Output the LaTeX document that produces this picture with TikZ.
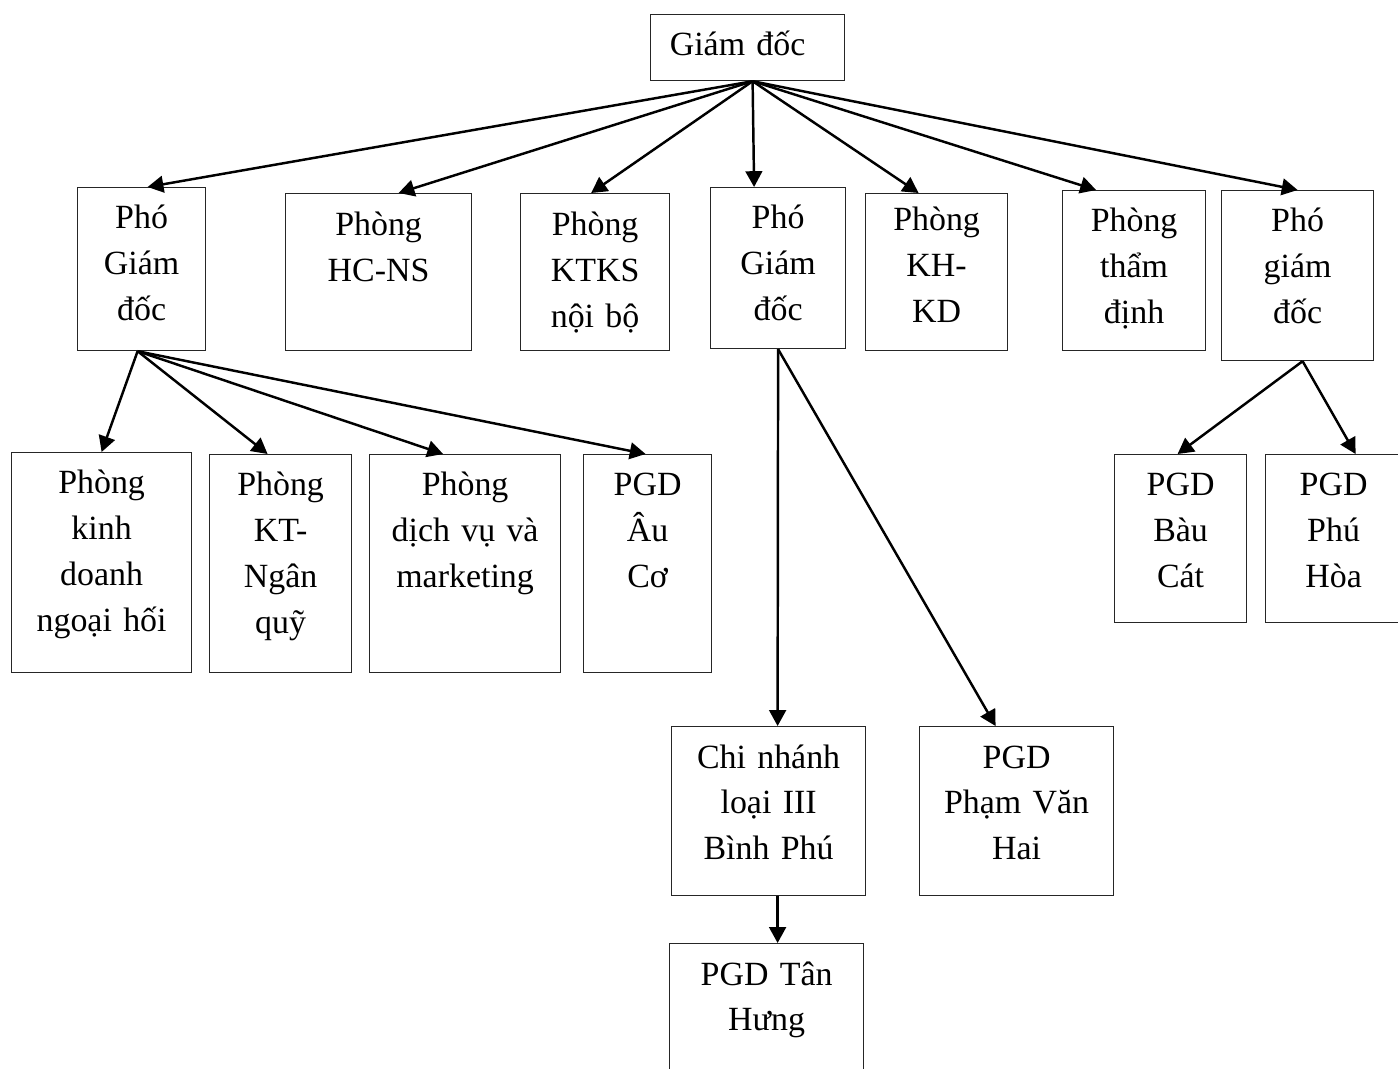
\documentclass[tikz,border=0pt]{standalone}
\usepackage{fontspec}
\setmainfont{Liberation Serif}
\usepackage{tikz}
\usetikzlibrary{positioning,calc,arrows.meta}

\begin{document}
\begin{tikzpicture}[x=0.02cm,y=-0.02cm]
\tikzset{
  unit/.style={draw=black!85, line width=0.7pt, anchor=north west, inner sep=0pt},
  caption/.style={anchor=base, yshift=-0.84cm, align=center, text width=4cm,
    inner sep=0pt, font=\fontsize{19.3pt}{26pt}\selectfont},
  link/.style={line width=1.4pt, -{Triangle[length=9pt,width=9.5pt]}}
}
\clip (0,0) rectangle (1398,1068);
% top
\node[unit, minimum width=3.88cm, minimum height=1.32cm,
  label={[caption, xshift=-0.2cm]north:Giám đốc}] (gd) at (650,14) {};
% second row
\node[unit, minimum width=2.56cm, minimum height=3.26cm,
  label={[caption]north:Phó\\Giám\\đốc}] (pgdA) at (77,187) {};
\node[unit, minimum width=3.72cm, minimum height=3.14cm,
  label={[caption, yshift=-0.02cm]north:Phòng\\HC-NS}] (hcns) at (285,193) {};
\node[unit, minimum width=2.98cm, minimum height=3.14cm,
  label={[caption, yshift=-0.02cm]north:Phòng\\KTKS\\nội bộ}] (ktks) at (520,193) {};
\node[unit, minimum width=2.70cm, minimum height=3.22cm,
  label={[caption]north:Phó\\Giám\\đốc}] (pgdB) at (710,187) {};
\node[unit, minimum width=2.84cm, minimum height=3.14cm,
  label={[caption, yshift=0.08cm]north:Phòng\\KH-\\KD}] (khkd) at (865,193) {};
\node[unit, minimum width=2.86cm, minimum height=3.20cm,
  label={[caption]north:Phòng\\thẩm\\định}] (thamdinh) at (1062,190) {};
\node[unit, minimum width=3.04cm, minimum height=3.40cm,
  label={[caption]north:Phó\\giám\\đốc}] (pgdC) at (1221,190) {};
% third row
\node[unit, minimum width=3.60cm, minimum height=4.40cm,
  label={[caption]north:Phòng\\kinh\\doanh\\ngoại hối}] (kdnh) at (11,452) {};
\node[unit, minimum width=2.84cm, minimum height=4.36cm,
  label={[caption]north:Phòng\\KT-\\Ngân\\quỹ}] (ktnq) at (209,454) {};
\node[unit, minimum width=3.82cm, minimum height=4.36cm,
  label={[caption]north:Phòng\\dịch vụ và\\marketing}] (dvmkt) at (369,454) {};
\node[unit, minimum width=2.56cm, minimum height=4.36cm,
  label={[caption]north:PGD\\Âu\\Cơ}] (auco) at (583,454) {};
\node[unit, minimum width=2.64cm, minimum height=3.36cm,
  label={[caption]north:PGD\\Bàu\\Cát}] (baucat) at (1114,454) {};
\node[unit, minimum width=2.72cm, minimum height=3.36cm,
  label={[caption]north:PGD\\Phú\\Hòa}] (phuhoa) at (1265,454) {};
% lower rows
\node[unit, minimum width=3.88cm, minimum height=3.38cm,
  label={[caption]north:Chi nhánh\\loại III\\Bình Phú}] (binhphu) at (671,726) {};
\node[unit, minimum width=3.88cm, minimum height=3.38cm,
  label={[caption]north:PGD\\Phạm Văn\\Hai}] (phamvanhai) at (919,726) {};
\node[unit, minimum width=3.88cm, minimum height=4.00cm,
  label={[caption]north:PGD Tân\\Hưng}] (tanhung) at (669,943) {};
% connectors
\coordinate (gdout) at ($(gd.south)+(5,0)$);
\draw[link] (gdout) -- ($(pgdA.north)+(6,0)$);
\draw[link] (gdout) -- ($(hcns.north)+(20,0)$);
\draw[link] (gdout) -- ($(ktks.north)+(-4,0)$);
\draw[link] (gdout) -- ($(pgdB.north)+(-24,0)$);
\draw[link] (gdout) -- ($(khkd.north)+(-18,0)$);
\draw[link] (gdout) -- ($(thamdinh.north)+(-38,0)$);
\draw[link] (gdout) -- ($(pgdC.north)+(0,0)$);
\coordinate (pgdAout) at ($(pgdA.south)+(-4,0)$);
\draw[link] (pgdAout) -- ($(kdnh.north)+(0,0)$);
\draw[link] (pgdAout) -- ($(ktnq.north)+(-13,0)$);
\draw[link] (pgdAout) -- ($(dvmkt.north)+(-22,0)$);
\draw[link] (pgdAout) -- ($(auco.north)+(-2,0)$);
\draw[link] (pgdB.south) -- ($(binhphu.north)+(9,0)$);
\draw[link] (pgdB.south) -- ($(phamvanhai.north)+(-21,0)$);
\coordinate (pgdCout) at ($(pgdC.south)+(5,0)$);
\draw[link] (pgdCout) -- ($(baucat.north)+(-3,0)$);
\draw[link] (pgdCout) -- ($(phuhoa.north)+(22,0)$);
\draw[link] ($(binhphu.south)+(9,0)$) -- ($(tanhung.north)+(11,0)$);
\end{tikzpicture}
\end{document}
